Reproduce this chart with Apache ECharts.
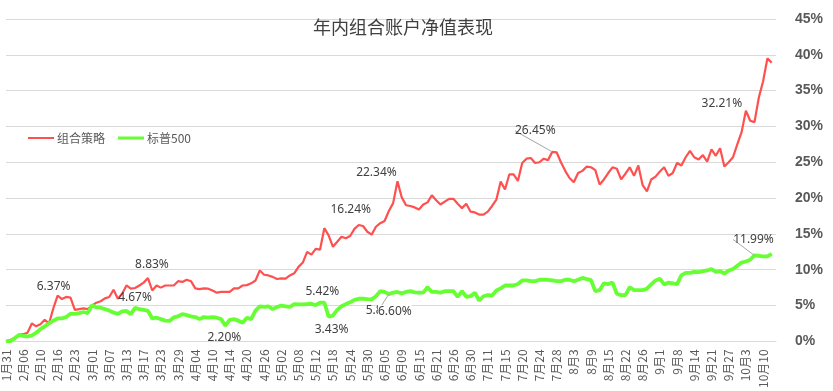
<!DOCTYPE html>
<html>
<head>
<meta charset="utf-8">
<script src="https://cdn.jsdelivr.net/npm/echarts@6/dist/echarts.min.js"></script>
<style>
html,body{margin:0;padding:0;background:#fff;}
#chart{width:833px;height:391px;}
</style>
</head>
<body>
<div id="chart"></div>
<script>
// ---- Data ----
const tickLabels = ['1月31','2月06','2月10','2月16','2月23','3月01','3月07','3月13','3月17','3月23','3月29','4月04','4月10','4月14','4月20','4月26','5月02','5月08','5月12','5月18','5月24','5月30','6月05','6月09','6月15','6月21','6月26','6月30','7月11','7月15','7月20','7月24','7月28','8月3','8月9','8月15','8月22','8月26','9月1','9月8','9月14','9月21','9月27','10月3','10月10'];

const portfolio = [
0,0.2,0.5,0.9,1.0,1.2,2.5,2.1,2.4,3.0,
2.5,4.6,6.37,5.9,6.2,6.1,4.4,4.5,4.6,4.5,
5.0,5.4,5.6,6.0,6.2,7.2,5.95,6.65,7.8,7.35,
7.45,7.8,8.2,8.83,7.1,7.8,7.5,7.8,7.8,7.8,
8.4,8.3,8.6,8.4,7.4,7.3,7.4,7.35,7.1,6.8,
6.9,6.9,6.9,7.4,7.4,7.8,7.85,8.1,8.5,9.9,
9.3,9.2,9.0,8.7,8.8,8.75,9.2,9.5,10.4,11.0,
12.5,12.1,12.9,12.8,15.8,14.8,13.2,13.9,14.6,14.4,
14.7,15.7,16.24,16.1,15.3,14.9,16.0,16.5,16.8,18.2,
19.3,22.34,20.1,19.0,18.9,18.7,18.4,19.1,19.4,20.4,
19.7,19.1,19.5,19.9,19.9,19.2,18.6,19.2,18.1,18.0,
17.7,17.7,18.1,18.9,19.8,22.3,21.2,23.3,23.3,22.4,
24.9,25.5,25.6,24.9,25.0,25.5,25.3,26.45,26.4,25.0,
23.8,22.8,22.2,23.5,23.8,24.4,24.3,23.9,21.9,22.6,
23.5,24.3,24.1,22.6,23.4,24.3,23.1,24.55,21.8,20.95,
22.6,23.0,23.7,24.3,23.1,23.5,24.9,24.55,25.7,26.6,
25.7,25.4,26.0,25.1,26.8,25.9,26.95,24.4,25.0,25.7,
27.5,29.2,32.21,30.8,30.6,34.0,36.3,39.5,38.9
];

const sp500 = [
0,0.05,0.4,0.9,0.75,0.7,0.8,1.2,1.7,2.1,
2.5,2.9,3.2,3.2,3.4,3.85,3.85,3.95,4.1,3.95,
5.05,4.75,4.7,4.5,4.3,4.0,3.85,4.2,4.25,3.8,
4.67,4.5,4.4,4.25,3.2,3.3,3.1,2.9,2.85,3.35,
3.5,3.8,3.65,3.5,3.4,3.1,3.4,3.3,3.4,3.3,
3.1,2.2,3.0,3.1,2.9,2.6,3.3,3.1,4.3,4.9,
4.8,4.9,4.5,4.8,5.0,4.9,4.8,5.2,5.15,5.15,
5.2,5.25,5.05,5.4,5.42,3.43,3.6,4.4,4.9,5.2,
5.45,5.8,5.95,5.95,5.9,5.86,6.3,7.0,6.9,6.6,
6.8,6.9,6.7,6.9,7.0,6.85,6.8,6.8,7.55,6.9,
6.9,6.8,7.0,7.0,7.0,6.2,7.0,6.2,6.3,6.8,
5.7,6.3,6.45,6.4,7.1,7.4,7.8,7.8,7.8,8.0,
8.5,8.5,8.4,8.4,8.6,8.6,8.6,8.5,8.4,8.4,
8.6,8.6,8.4,8.6,8.85,8.7,8.55,7.0,7.15,8.1,
8.0,8.2,6.65,6.45,6.45,7.55,7.15,7.15,7.15,7.35,
7.95,8.5,8.75,7.95,8.2,8.1,8.0,9.2,9.55,9.55,
9.7,9.65,9.8,9.9,10.1,9.7,9.8,9.45,9.9,10.1,
10.55,11.0,11.15,11.4,11.99,11.95,11.85,11.85,12.2
];

const seriesNames = ['组合策略','标普500'];
// indices of annotated points
const portfolioLabelIdx = [12,33,82,91,127,172];
const sp500LabelIdx = [30,51,74,75,85,89,174];
const yTicks = {min:0, max:45, interval:5};

// ---- Styles (label offsets from point, leader line flags) ----
const labelOffsets = [
  {12:[-4,-9,false],33:[4,-14,false],82:[-8,-15,false],91:[-21,-9,false],127:[-17,-21,true],172:[-24,-7,false]},
  {30:[0,-10,false],51:[-1,12,false],74:[-2,-11,false],75:[3,13,false],85:[11,11,false],89:[6,17,true],174:[-1,-16,true]}
];

const nCat = portfolio.length + 1;
const cats = [];
for (let i = 0; i < nCat; i++) cats.push(String(i));

function buildData(values, idxs, sIdx){
  return values.map((v,i)=>{
    if (idxs.indexOf(i) >= 0){
      const o = labelOffsets[sIdx][i];
      const item = {
        value: v,
        label: {show: true, formatter: v.toFixed(2) + '%'},
        labelLine: {show: o[2]}
      };
      if (sIdx === 1 && i === 89) item.label.backgroundColor = '#ffffff';
      return item;
    }
    return v;
  });
}

const labelFont = {
  position: 'inside', color: '#404040', fontSize: 12,
  fontFamily: '"Noto Sans", "Noto Sans CJK SC", sans-serif'
};

const chart = echarts.init(document.getElementById('chart'), null, {renderer:'canvas'});
chart.setOption({
  animation: false,
  backgroundColor: '#ffffff',
  title: {
    text: '年内组合账户净值表现',
    left: 313, top: 18, padding: 0,
    textStyle: {fontSize: 18, fontWeight: 'normal', color: '#404040',
      fontFamily: '"Noto Sans CJK SC", sans-serif'}
  },
  legend: [
    {data: [seriesNames[0]], left: 23, top: 127, icon: 'rect', itemWidth: 26, itemHeight: 2,
     itemGap: 0, textStyle: {fontSize: 12, color: '#595959', fontFamily: '"Noto Sans CJK SC", sans-serif', padding:[0,0,0,-2]}},
    {data: [seriesNames[1]], left: 113, top: 127, icon: 'rect', itemWidth: 26, itemHeight: 3,
     itemGap: 0, textStyle: {fontSize: 12, color: '#595959', fontFamily: '"Noto Sans CJK SC", sans-serif', padding:[0,0,0,-2]}}
  ],
  grid: {left: 6, right: 57, top: 19, bottom: 47, containLabel: false},
  xAxis: {
    type: 'category', data: cats, boundaryGap: false,
    axisLine: {lineStyle: {color: '#d9d9d9'}},
    axisTick: {show: false},
    axisLabel: {
      interval: 3, rotate: 90, margin: 8, fontSize: 12, color: '#595959',
      fontFamily: '"Noto Sans CJK SC", sans-serif',
      formatter: function(v, idx){ return (idx % 4 === 0 && tickLabels[idx/4]) ? tickLabels[idx/4] : ''; }
    },
    splitLine: {show: false}
  },
  yAxis: {
    type: 'value', position: 'right', min: yTicks.min, max: yTicks.max, interval: yTicks.interval,
    axisLine: {show: false}, axisTick: {show: false},
    axisLabel: {formatter: '{value}%', margin: 19, fontSize: 14, fontWeight: 'bold', color: '#595959',
      fontFamily: '"Liberation Sans", Arial, sans-serif'},
    splitLine: {lineStyle: {color: '#d9d9d9', width: 1}}
  },
  series: [
    {
      name: seriesNames[0], type: 'line', data: buildData(portfolio, portfolioLabelIdx, 0),
      showSymbol: true, showAllSymbol: true, symbol: 'circle', symbolSize: 0,
      lineStyle: {color: '#ff5050', width: 2.2}, itemStyle: {color: '#ff5050'},
      label: Object.assign({show: false}, labelFont),
      labelLine: {show: true, lineStyle: {color: '#a6a6a6', width: 1}},
      labelLayout: function(p){ const o = labelOffsets[0][p.dataIndex]; return o ? {dx:o[0], dy:o[1]} : {}; },
      emphasis: {disabled: true}, z: 2
    },
    {
      name: seriesNames[1], type: 'line', data: buildData(sp500, sp500LabelIdx, 1),
      showSymbol: true, showAllSymbol: true, symbol: 'circle', symbolSize: 0,
      lineStyle: {color: '#66ff33', width: 3.8}, itemStyle: {color: '#66ff33'},
      label: Object.assign({show: false}, labelFont),
      labelLine: {show: true, lineStyle: {color: '#a6a6a6', width: 1}},
      labelLayout: function(p){ const o = labelOffsets[1][p.dataIndex]; return o ? {dx:o[0], dy:o[1]} : {}; },
      emphasis: {disabled: true}, z: 3
    }
  ]
});
</script>
</body>
</html>
